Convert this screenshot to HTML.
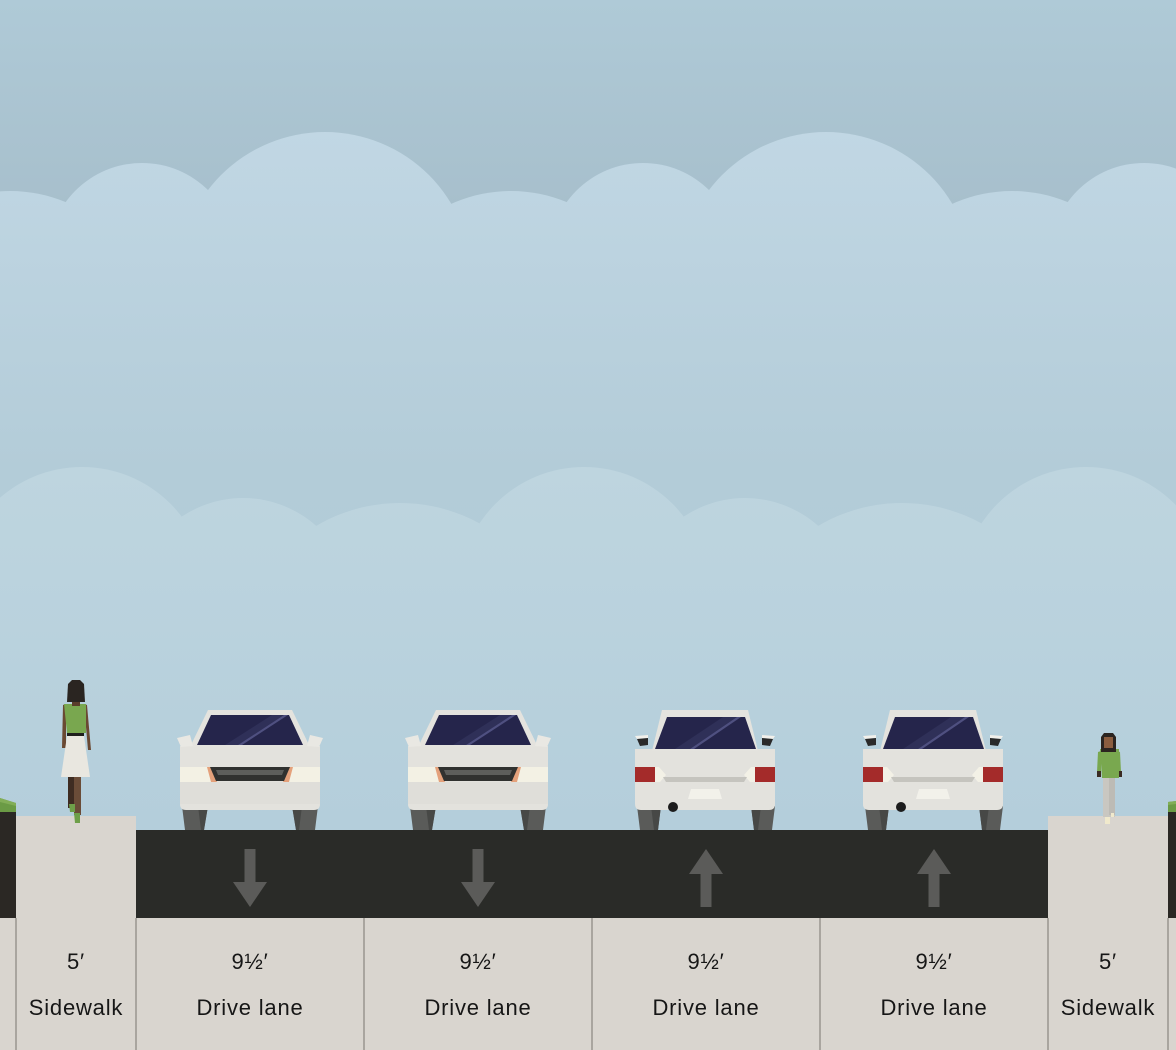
<!DOCTYPE html>
<html><head><meta charset="utf-8">
<style>
html,body{margin:0;padding:0;width:1176px;height:1050px;overflow:hidden;background:#d9d5cf;}
svg{display:block}
text{font-family:"Liberation Sans",Arial,sans-serif;font-size:22px;fill:#161616;letter-spacing:0.8px}
</style></head><body>
<svg width="1176" height="1050" viewBox="0 0 1176 1050" xmlns="http://www.w3.org/2000/svg">
<defs>
<linearGradient id="sky" x1="0" y1="0" x2="0" y2="830" gradientUnits="userSpaceOnUse">
<stop offset="0" stop-color="#afcad7"/><stop offset="0.25" stop-color="#a7bfcc"/><stop offset="1" stop-color="#a7bfcc"/>
</linearGradient>
<linearGradient id="cu" x1="0" y1="130" x2="0" y2="830" gradientUnits="userSpaceOnUse">
<stop offset="0" stop-color="#c1d7e4"/><stop offset="0.486" stop-color="#b3ccd8"/><stop offset="1" stop-color="#b0c9d6"/>
</linearGradient>
<linearGradient id="cl" x1="0" y1="467" x2="0" y2="830" gradientUnits="userSpaceOnUse">
<stop offset="0" stop-color="#bed5df"/><stop offset="1" stop-color="#b4cedb"/>
</linearGradient>
<g id="fcar">
<polygon points="182,806 208,806 204,830 185,830" fill="#5a5b59"/>
<polygon points="198,806 208,806 204,830 201,830" fill="#474846"/>
<polygon points="292,806 318,806 315,830 296,830" fill="#5a5b59"/>
<polygon points="292,806 302,806 299,830 296,830" fill="#474846"/>
<path d="M180,746 L320,746 L320,804 Q320,810 314,810 L186,810 Q180,810 180,804 Z" fill="#e3e2dd"/>
<rect x="180" y="782" width="140" height="22" fill="#dfded9"/>
<polygon points="208,710 292,710 310,747 190,747" fill="#e4e3de"/>
<polygon points="211,715 289,715 303,745 197,745" fill="#25254b"/>
<polygon points="225,745 238,745 284,715 272,715" fill="#2f3058"/>
<polygon points="238,745 242,745 288,715 284,715" fill="#4f5080"/>
<polygon points="177,738 190,735 193,746 181,747" fill="#e9e8e3"/>
<polygon points="323,738 310,735 307,746 319,747" fill="#e9e8e3"/>
<polygon points="180,767 208,767 211,782 180,782" fill="#f3f1e4"/>
<polygon points="207,767 212,767 217,782 211,782" fill="#e4a17b"/>
<polygon points="320,767 292,767 289,782 320,782" fill="#f3f1e4"/>
<polygon points="293,767 288,767 283,782 289,782" fill="#e4a17b"/>
<polygon points="210,767 290,767 284,781 216,781" fill="#30312f"/>
<polygon points="216,770 284,770 282,775 218,775" fill="#5d5e5b"/>
</g>
<g id="rcar">
<polygon points="637,806 661,806 658,830 640,830" fill="#5a5b59"/>
<polygon points="651,806 661,806 658,830 654,830" fill="#474846"/>
<polygon points="751,806 775,806 772,830 754,830" fill="#5a5b59"/>
<polygon points="751,806 761,806 758,830 754,830" fill="#474846"/>
<path d="M635,749 L775,749 L775,804 Q775,810 769,810 L641,810 Q635,810 635,804 Z" fill="#e3e2dd"/>
<polygon points="662,710 748,710 758,751 652,751" fill="#e4e3de"/>
<polygon points="667,717 745,717 756,749 655,749" fill="#25254b"/>
<polygon points="675,749 690,749 737,717 723,717" fill="#2f3058"/>
<polygon points="690,749 694,749 741,717 737,717" fill="#4f5080"/>
<polygon points="635,736 648,735 648,738 637,739" fill="#f1f0eb"/>
<polygon points="637,739 648,738 648,745 640,746" fill="#2a2a2a"/>
<polygon points="775,736 762,735 762,738 773,739" fill="#f1f0eb"/>
<polygon points="773,739 762,738 762,745 770,746" fill="#2a2a2a"/>
<rect x="635" y="767" width="20" height="15" fill="#a42b2a"/>
<polygon points="655,767 659,767 666,775 660,782 655,782" fill="#f3f1e6"/>
<rect x="755" y="767" width="20" height="15" fill="#a42b2a"/>
<polygon points="755,767 751,767 744,775 750,782 755,782" fill="#f3f1e6"/>
<polygon points="663,777 747,777 744,782 666,782" fill="#c5c4be"/>
<polygon points="691,789 719,789 722,799 688,799" fill="#f2f1ea"/>
<circle cx="673" cy="807" r="5" fill="#1c1c1c"/>
</g>
</defs>

<!-- sky -->
<rect x="0" y="0" width="1176" height="830" fill="url(#sky)"/>
<g fill="url(#cu)">
<circle cx="10" cy="336" r="145"/><circle cx="511" cy="336" r="145"/><circle cx="1012" cy="336" r="145"/>
<circle cx="142" cy="257" r="94"/><circle cx="643" cy="257" r="94"/><circle cx="1144" cy="257" r="94"/>
<circle cx="325" cy="279" r="147"/><circle cx="826" cy="279" r="147"/>
<rect x="0" y="260" width="1176" height="570"/>
</g>
<g fill="url(#cl)">
<circle cx="400" cy="668" r="165"/><circle cx="902" cy="668" r="165"/>
<circle cx="243" cy="608" r="110"/><circle cx="745" cy="608" r="110"/><circle cx="1247" cy="608" r="110"/>
<circle cx="82" cy="592" r="125"/><circle cx="584" cy="592" r="125"/><circle cx="1086" cy="592" r="125"/>
<rect x="0" y="600" width="1176" height="230"/>
</g>

<!-- edges -->
<rect x="0" y="810" width="16" height="108" fill="#2b2824"/>
<polygon points="0,798 16,803 16,812 0,812" fill="#6b9b45"/>
<polygon points="0,798 16,803 16,806 0,802" fill="#82ae57"/>
<rect x="1168" y="810" width="8" height="108" fill="#2b2824"/>
<polygon points="1168,802 1176,801 1176,812 1168,812" fill="#6b9b45"/>
<polygon points="1168,802 1176,801 1176,804 1168,805" fill="#82ae57"/>

<!-- sidewalks -->
<rect x="16" y="816" width="120" height="102" fill="#d9d5cf"/>
<rect x="1048" y="816" width="120" height="102" fill="#d9d5cf"/>

<!-- road -->
<rect x="136" y="830" width="912" height="88" fill="#2a2b28"/>

<!-- arrows -->
<g fill="#5b5b59">
<rect x="244.5" y="849" width="11" height="34"/><polygon points="233,882 267,882 250,907"/>
<rect x="472.5" y="849" width="11" height="34"/><polygon points="461,882 495,882 478,907"/>
<rect x="700.5" y="873" width="11" height="34"/><polygon points="689,874 723,874 706,849"/>
<rect x="928.5" y="873" width="11" height="34"/><polygon points="917,874 951,874 934,849"/>
</g>

<!-- cars -->
<use href="#fcar"/>
<use href="#fcar" transform="translate(228,0)"/>
<use href="#rcar"/>
<use href="#rcar" transform="translate(228,0)"/>

<!-- left pedestrian -->
<g>
<polygon points="63,705 66,704 66,748 62,748" fill="#6a4933"/>
<polygon points="84,704 87,705 91,750 88,750" fill="#6a4933"/>
<rect x="68" y="777" width="7" height="31" fill="#3e2c22"/>
<rect x="74" y="777" width="7" height="38" fill="#6a4c38"/>
<polygon points="69,804 75,804 75,812 70,812" fill="#6e9f49"/>
<polygon points="74,813 80,813 80,823 75,823" fill="#6e9f49"/>
<polygon points="64,704 86,704 86,733 67,733" fill="#79a74f"/>
<rect x="72" y="702" width="8" height="4" fill="#5a3d2b"/>
<rect x="67" y="733" width="17" height="3" fill="#1f1f1d"/>
<polygon points="67,736 84,736 90,777 61,777" fill="#e9e7e0"/>
<polygon points="68,684 72,680 80,680 84,684 85,702 67,702" fill="#2a2521"/>
</g>

<!-- right pedestrian -->
<g>
<polygon points="1098,752 1101,751 1101,772 1097,772" fill="#79a84f"/>
<polygon points="1117,751 1120,752 1121,772 1118,772" fill="#79a84f"/>
<rect x="1097" y="771" width="4" height="6" fill="#3a2a22"/>
<rect x="1118" y="771" width="4" height="6" fill="#3a2a22"/>
<rect x="1103" y="777" width="12" height="40" fill="#c9c7c1"/>
<rect x="1109" y="777" width="6" height="38" fill="#bdbbb5"/>
<rect x="1105" y="817" width="5" height="7" fill="#f0e9cc"/>
<rect x="1111" y="813" width="3" height="4" fill="#f0e9cc"/>
<polygon points="1100,749 1119,749 1119,778 1102,778" fill="#79a84f"/>
<polygon points="1101,737 1104,733 1113,733 1116,737 1116,752 1101,752" fill="#2b2420"/>
<rect x="1104" y="737" width="9" height="11" fill="#8b5d3f"/>
</g>

<!-- labels area -->
<rect x="0" y="918" width="1176" height="132" fill="#d9d5cf"/>
<g stroke="#a9a59f" stroke-width="2">
<line x1="16" y1="918" x2="16" y2="1050"/>
<line x1="136" y1="918" x2="136" y2="1050"/>
<line x1="364" y1="918" x2="364" y2="1050"/>
<line x1="592" y1="918" x2="592" y2="1050"/>
<line x1="820" y1="918" x2="820" y2="1050"/>
<line x1="1048" y1="918" x2="1048" y2="1050"/>
<line x1="1168" y1="918" x2="1168" y2="1050"/>
</g>
<g text-anchor="middle">
<text x="76" y="969">5′</text>
<text x="76" y="1015">Sidewalk</text>
<text x="250" y="969">9½′</text>
<text x="250" y="1015">Drive lane</text>
<text x="478" y="969">9½′</text>
<text x="478" y="1015">Drive lane</text>
<text x="706" y="969">9½′</text>
<text x="706" y="1015">Drive lane</text>
<text x="934" y="969">9½′</text>
<text x="934" y="1015">Drive lane</text>
<text x="1108" y="969">5′</text>
<text x="1108" y="1015">Sidewalk</text>
</g>
</svg>
</body></html>
